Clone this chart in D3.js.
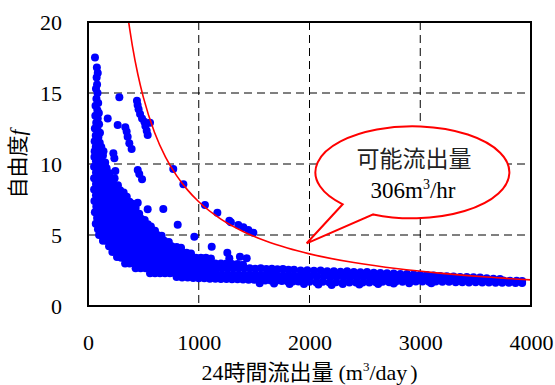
<!DOCTYPE html>
<html>
<head>
<meta charset="utf-8">
<script src="https://cdn.jsdelivr.net/npm/d3@7"></script>
<style>
  html, body { margin: 0; padding: 0; background: #fff; }
  svg { display: block; }
</style>
</head>
<body>
<script>
// ---------------- data ----------------
const xTicks = [0, 1000, 2000, 3000, 4000];
const yTicks = [0, 5, 10, 15, 20];

// theoretical curve for 306 m3/hr
const curveX = [367, 400, 450, 500, 600, 700, 800, 900, 1000, 1200, 1400, 1600, 1800, 2000, 2400, 2800, 3200, 3600, 4000];
const curveF = [20.0, 18.36, 16.32, 14.69, 12.24, 10.49, 9.18, 8.16, 7.34, 6.12, 5.25, 4.59, 4.08, 3.67, 3.06, 2.62, 2.30, 2.04, 1.84];

// observed points [24h discharge, degree of freedom f]
const columnPts = [[63,17.5],[80,16.8],[88,16.4],[78,16.1],[82,15.6],[72,15.3],[86,15.0],[76,14.6],[92,14.3],[68,14.1],[84,13.8],[98,13.6],[66,13.4],[88,13.2],[74,12.9],[100,12.8],[62,12.5],[86,12.4],[108,12.2],[70,12.0],[94,11.9],[60,11.6],[82,11.6],[106,11.5],[70,11.2],[96,11.1],[120,11.2],[60,10.9],[84,10.8],[112,10.8],[140,10.9]];

const sparsePts = [[283,14.7],[178,13.2],[229,10.75],[238,10.4],[247,9.5],
  [442,14.46],[448,14.15],[457,13.85],[470,13.52],[488,13.2],[509,12.98],[560,12.9],[518,12.68],[530,12.35],[539,12.04],
  [268,12.75],[337,12.58],[349,12.28],[358,11.92],[373,11.46],[394,11.06],
  [449,9.58],[463,9.3],[488,8.92],[770,9.65],[861,8.57],[680,6.83],[810,5.73],[960,4.88],[449,7.27],[539,6.81],
  [1056,7.11],[1168,6.57],[1276,6.01],[1290,5.9],[1357,5.70],[1403,5.54],[1448,5.35],[1493,5.16],
  [1117,4.18],[1258,3.75],[1276,3.36],[1372,3.47],[1433,3.36],[2200,1.48]];

const wedgePts = [
  [58,10.5],[100,10.5],[135,10.6],
  [72,10.2],[112,10.2],[155,10.1],
  [55,9.8],[92,9.8],[130,9.8],[168,9.7],
  [72,9.4],[110,9.4],[150,9.4],[195,9.35],
  [55,9.0],[92,9.0],[130,9.0],[170,9.0],[208,8.95],[240,9.0],
  [72,8.6],[110,8.6],[150,8.6],[190,8.6],[228,8.6],[270,8.5],
  [55,8.2],[92,8.2],[130,8.2],[170,8.2],[210,8.2],[250,8.2],[290,8.15],[322,8.0],
  [72,7.8],[110,7.8],[150,7.8],[190,7.8],[230,7.8],[270,7.8],[310,7.8],[350,7.7],
  [58,7.4],[95,7.4],[135,7.4],[175,7.4],[215,7.4],[255,7.4],[295,7.4],[335,7.4],[375,7.35],[402,7.2],
  [75,7.0],[115,7.0],[155,7.0],[195,7.0],[235,7.0],[275,7.0],[315,7.0],[355,7.0],[395,6.95],[430,6.9],
  [62,6.6],[100,6.6],[140,6.6],[180,6.6],[220,6.6],[260,6.6],[300,6.6],[340,6.6],[380,6.6],[420,6.6],[462,6.5],
  [82,6.2],[120,6.2],[160,6.2],[200,6.2],[240,6.2],[280,6.2],[320,6.2],[360,6.2],[400,6.2],[440,6.2],[480,6.15],[512,6.05],
  [70,5.8],[105,5.8],[140,5.8],[180,5.8],[220,5.8],[260,5.8],[300,5.8],[340,5.8],[380,5.8],[420,5.8],[460,5.8],[500,5.8],[540,5.75],[568,5.6],
  [90,5.4],[125,5.4],[165,5.4],[205,5.4],[245,5.4],[285,5.4],[325,5.4],[365,5.4],[405,5.4],[445,5.4],[485,5.4],[525,5.4],[565,5.4],[605,5.3],
  [100,5.0],[145,5.0],[185,5.0],[225,5.0],[265,5.0],[305,5.0],[345,5.0],[385,5.0],[425,5.0],[465,5.0],[505,5.0],[545,5.0],[585,5.0],[625,5.0],[665,4.95],
  [135,4.6],[165,4.6],[205,4.6],[245,4.6],[285,4.6],[325,4.6],[365,4.6],[405,4.6],[445,4.6],[485,4.6],[525,4.6],[565,4.6],[605,4.6],[645,4.6],[688,4.6],[730,4.5],
  [190,4.2],[230,4.2],[270,4.2],[310,4.2],[350,4.2],[390,4.2],[430,4.2],[470,4.2],[510,4.2],[550,4.2],[590,4.2],[630,4.2],[670,4.2],[710,4.2],[755,4.2],[800,4.15],[840,4.1]];

const lowerPts = [
  [220,3.8],[262,3.8],[305,3.8],[350,3.8],[395,3.8],[440,3.8],[485,3.8],[530,3.8],[575,3.8],[620,3.8],[665,3.8],[710,3.8],[755,3.8],[800,3.8],[845,3.8],[890,3.75],[930,3.7],
  [262,3.45],[300,3.4],[345,3.4],[390,3.4],[435,3.4],[480,3.4],[525,3.4],[570,3.4],[615,3.4],[660,3.4],[705,3.4],[750,3.4],[795,3.4],[840,3.4],[885,3.4],[930,3.4],[975,3.4],[1020,3.4],[1065,3.4],[1110,3.35],
  [335,3.0],[375,3.0],[420,3.0],[465,3.0],[510,3.0],[555,3.0],[600,3.0],[645,3.0],[690,3.0],[735,3.0],[780,3.0],[825,3.0],[870,3.0],[915,3.0],[960,3.0],[1005,3.0],[1050,3.0],[1100,3.0],[1150,3.0],[1200,3.0],[1250,3.0],[1300,2.95],[1350,2.95],[1400,2.9],
  [430,2.65],[475,2.65],[520,2.65],[565,2.65],[610,2.65],[655,2.65],[700,2.65],[745,2.65],[790,2.65],[835,2.65],[880,2.65],[925,2.65],[970,2.65],[1015,2.65],[1060,2.65],[1110,2.65],[1160,2.65],[1210,2.65],[1260,2.65],[1310,2.65],[1360,2.65],[1410,2.65],[1460,2.65],[1510,2.62],[1560,2.65],[1610,2.6],[1660,2.62],[1710,2.58],[1760,2.6],[1810,2.55]];

const bandUpper = [[1860,2.55],[1920,2.5],[1980,2.52],[2040,2.48],[2100,2.5],[2160,2.45],[2220,2.45],[2280,2.42],[2340,2.45],[2400,2.4],[2460,2.38],[2520,2.4],[2580,2.35],[2640,2.32],[2700,2.3],[2760,2.28],[2820,2.25],[2880,2.25],[2940,2.22],[3000,2.2],[3060,2.18],[3120,2.15],[3180,2.12],[3240,2.1],[3300,2.08],[3360,2.05],[3420,2.05],[3480,2.02],[3540,2.0],[3600,1.95],[3660,1.92],[3720,1.9]];

const bandMid = [[560,2.3],[605,2.3],[650,2.3],[695,2.3],[740,2.3],[785,2.3],[830,2.3],[875,2.3],[920,2.28],[965,2.28],[1010,2.25],[1060,2.25],[1110,2.25],[1160,2.25],[1210,2.22],[1260,2.22],[1310,2.22],[1360,2.2],[1410,2.2],[1460,2.2],[1510,2.2],[1560,2.18],[1610,2.18],[1660,2.18],[1710,2.15],[1760,2.15],[1810,2.15],[1860,2.12],[1910,2.12],[1960,2.1],[2010,2.1],[2070,2.08],[2130,2.1],[2190,2.06],[2250,2.08],[2310,2.05],[2370,2.05],[2430,2.03],[2490,2.05],[2550,2.02],[2610,2.0],[2670,2.02],[2730,2.0],[2790,1.98],[2850,2.0],[2910,1.97],[2970,1.96],[3030,1.95],[3090,1.93],[3150,1.93],[3210,1.9],[3270,1.9],[3330,1.88],[3390,1.88],[3450,1.85],[3510,1.85],[3570,1.83],[3630,1.82],[3690,1.8],[3750,1.8],[3810,1.78],[3870,1.78],[3920,1.76]];

const bandLow = [[800,2.05],[850,2.0],[900,2.0],[950,1.98],[1000,1.95],[1050,1.95],[1100,1.92],[1150,1.92],[1200,1.9],[1250,1.9],[1300,1.88],[1350,1.88],[1400,1.86],[1450,1.85],[1500,1.85],[1550,1.82],[1600,1.8],[1650,1.8],[1700,1.78],[1750,1.76],[1800,1.75],[1850,1.73],[1900,1.72],[1950,1.7],[2000,1.7],[2060,1.68],[2120,1.7],[2180,1.66],[2240,1.68],[2300,1.65],[2360,1.66],[2420,1.65],[2480,1.66],[2540,1.65],[2600,1.68],[2660,1.7],[2720,1.68],[2780,1.72],[2840,1.7],[2900,1.72],[2960,1.72],[3020,1.72],[3080,1.7],[3140,1.72],[3200,1.7],[3260,1.7],[3320,1.68],[3380,1.68],[3440,1.66],[3500,1.67],[3560,1.65],[3620,1.65],[3680,1.64],[3740,1.63],[3800,1.63],[3860,1.62],[3920,1.62],
  [1550,1.6],[1680,1.58],[1820,1.55],[1950,1.55],[2080,1.52],[2300,1.55],[2450,1.52],[2620,1.55],[2760,1.58],[2900,1.6],[3100,1.6]];

const allPts = [].concat(columnPts, wedgePts, lowerPts, bandUpper, bandMid, bandLow, sparsePts);

// ---------------- chart ----------------
const SERIF = '"Liberation Serif", "Times New Roman", serif';
const CJK = '"Noto Sans CJK JP", "Noto Sans CJK SC", sans-serif';

const W = 555, H = 385;
const M = { left: 88, top: 22, right: 24, bottom: 79 };
const iw = W - M.left - M.right, ih = H - M.top - M.bottom;

const svg = d3.select("body").append("svg").attr("width", W).attr("height", H);
const g = svg.append("g").attr("transform", `translate(${M.left},${M.top})`);

const x = d3.scaleLinear().domain([0, 4000]).range([0, iw]);
const y = d3.scaleLinear().domain([0, 20]).range([ih, 0]);

// grid
g.append("g").selectAll("line").data(xTicks.slice(1, -1)).join("line")
  .attr("x1", d => x(d)).attr("x2", d => x(d)).attr("y1", 0).attr("y2", ih)
  .attr("stroke", "#000").attr("stroke-width", 1).attr("stroke-dasharray", "8,5");
g.append("g").selectAll("line").data(yTicks.slice(1, -1)).join("line")
  .attr("y1", d => y(d)).attr("y2", d => y(d)).attr("x1", 0).attr("x2", iw)
  .attr("stroke", "#000").attr("stroke-width", 1).attr("stroke-dasharray", "8,5");

// axes
const xAxis = g.append("g").attr("transform", `translate(0,${ih})`)
  .call(d3.axisBottom(x).tickValues(xTicks).tickFormat(d3.format("d")).tickSize(0).tickPadding(28));
const yAxis = g.append("g")
  .call(d3.axisLeft(y).tickValues(yTicks).tickFormat(d3.format("d")).tickSize(0).tickPadding(26));
[xAxis, yAxis].forEach(a => {
  a.attr("font-family", null).attr("font-size", null);
  a.select(".domain").remove();
  a.selectAll("text").style("font-size", "22px").style("font-family", SERIF).attr("fill", "#000");
});

// points
g.append("g").selectAll("circle").data(allPts).join("circle")
  .attr("cx", d => x(d[0])).attr("cy", d => y(d[1])).attr("r", 4)
  .attr("fill", "#0000ff");

// curve
const curveData = curveX.map((v, i) => [v, curveF[i]]);
g.append("path").datum(curveData)
  .attr("d", d3.line().x(d => x(d[0])).y(d => y(d[1])).curve(d3.curveMonotoneX))
  .attr("fill", "none").attr("stroke", "#ff0000").attr("stroke-width", 1.6);

// frame
g.append("rect").attr("x", 0).attr("y", 0).attr("width", iw).attr("height", ih)
  .attr("fill", "none").attr("stroke", "#000").attr("stroke-width", 2);

// callout bubble (in page pixels)
const cx = 413, cy = 172.5, rx = 97, ry = 46;
const baseL = [342.7, 204.3], tip = [306.7, 243.3], baseR = [373.3, 214.4];
svg.append("path")
  .attr("d", `M${baseL[0]},${baseL[1]} L${tip[0]},${tip[1]} L${baseR[0]},${baseR[1]} A${rx},${ry} 0 1 0 ${baseL[0]},${baseL[1]} Z`)
  .attr("fill", "#fff").attr("stroke", "#ff0000").attr("stroke-width", 2).attr("stroke-linejoin", "miter");
svg.append("text").attr("x", 414).attr("y", 167).attr("text-anchor", "middle")
  .style("font-size", "23px").style("font-family", CJK).attr("fill", "#222").text("可能流出量");
const t2 = svg.append("text").attr("x", 413).attr("y", 198).attr("text-anchor", "middle")
  .style("font-size", "23px").style("font-family", SERIF).attr("fill", "#000");
t2.append("tspan").text("306m");
t2.append("tspan").style("font-size", "14px").attr("dy", -9).text("3");
t2.append("tspan").attr("dy", 9).text("/hr");

// axis titles
const xt = svg.append("text").attr("x", M.left + iw / 2).attr("y", 380).attr("text-anchor", "middle")
  .style("font-size", "22px").style("font-family", SERIF).attr("fill", "#000");
xt.append("tspan").text("24");
xt.append("tspan").style("font-family", CJK).text("時間流出量");
xt.append("tspan").attr("dx", 5).text("(m");
xt.append("tspan").style("font-size", "13px").attr("dy", -9).text("3");
xt.append("tspan").attr("dy", 9).text("/day");
xt.append("tspan").attr("dx", 3).text(")");

const yt = svg.append("text").attr("transform", `translate(25,${M.top + ih / 2}) rotate(-90)`)
  .attr("text-anchor", "middle").style("font-size", "21px").style("font-family", SERIF).attr("fill", "#000");
yt.append("tspan").style("font-family", CJK).text("自由度");
yt.append("tspan").style("font-style", "italic").text("f");
</script>
</body>
</html>
